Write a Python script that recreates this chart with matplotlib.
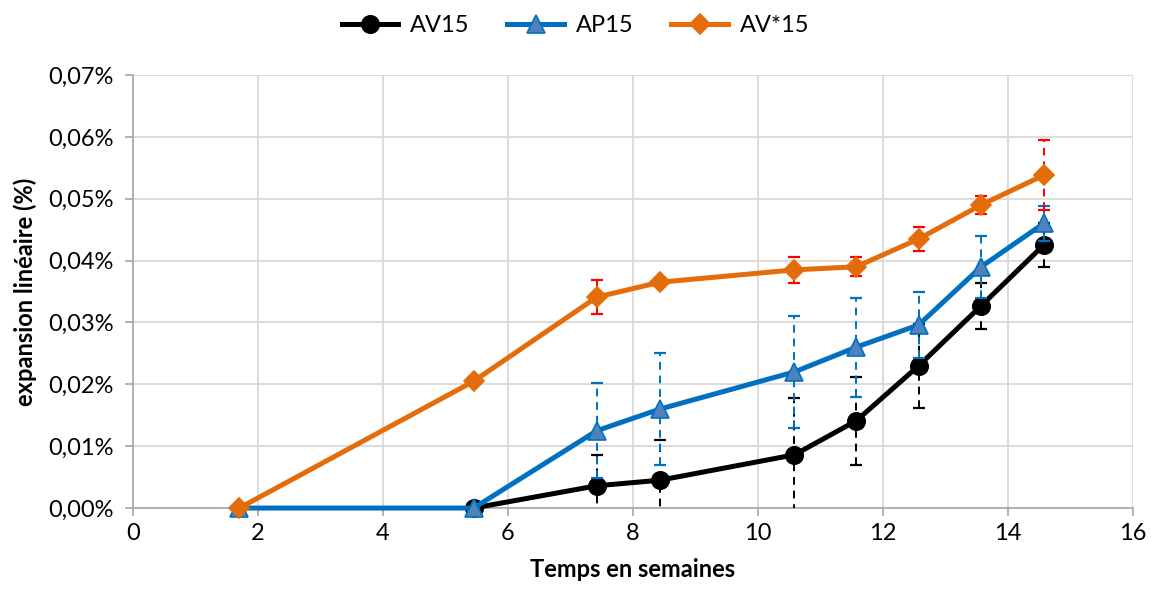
import matplotlib
matplotlib.use("Agg")
import matplotlib.pyplot as plt
from matplotlib.ticker import FuncFormatter, MultipleLocator

plt.rcParams["font.family"] = ["Lato", "DejaVu Sans"]

# temps (semaines)
semaines = [1.7, 5.45, 7.42, 8.43, 10.58, 11.57, 12.57, 13.57, 14.57]

# AV15 (starts at 5.45)
x_av15 = semaines[1:]
av15 = [0.0, 0.0036, 0.0045, 0.0086, 0.0141, 0.0230, 0.0327, 0.0425]
err_av15 = [0.0, 0.0050, 0.0065, 0.0092, 0.0071, 0.0068, 0.0037, 0.0035]

ap15 = [0.0, 0.0, 0.0125, 0.0160, 0.0220, 0.0260, 0.0296, 0.0390, 0.0460]
err_ap15 = [0.0, 0.0, 0.0077, 0.0090, 0.0090, 0.0080, 0.0054, 0.0050, 0.0028]

avs15 = [0.0, 0.0205, 0.0341, 0.0365, 0.0385, 0.0390, 0.0435, 0.0490, 0.0538]
err_avs15 = [0.0, 0.0, 0.0027, 0.0, 0.0021, 0.0015, 0.0020, 0.0015, 0.0057]

fig = plt.figure(figsize=(11.51, 5.97), dpi=100)
ax = fig.add_axes([0.1156, 0.149, 0.8688, 0.7254])

def draw(x, y, err, color, ecolor, marker, mfc, ms, label, z):
    eb = ax.errorbar(x, y, yerr=err, fmt="none", ecolor=ecolor, elinewidth=1.4,
                     capsize=4, capthick=1.6, zorder=z)
    for c in eb[2]:
        c.set_linestyle((0, (4, 3)))
    ax.plot(x, y, color=color, lw=3.6, marker=marker, ms=ms, mfc=mfc,
            mec=color, mew=1.2, label=label, zorder=z + 0.5, clip_on=False)

draw(x_av15, av15, err_av15, "black", "black", "o", "black", 12.5, "AV15", 3)
draw(semaines, ap15, err_ap15, "#0070C0", "#0070C0", "^", "#4F81BD", 13.5, "AP15", 4)
draw(semaines, avs15, err_avs15, "#E46C0A", "#FF0000", "D", "#E46C0A", 10.5, "AV*15", 5)

ax.set_xlim(0, 16)
ax.set_ylim(0, 0.07)
ax.xaxis.set_major_locator(MultipleLocator(2))
ax.yaxis.set_major_locator(MultipleLocator(0.01))
ax.yaxis.set_major_formatter(FuncFormatter(lambda v, p: f"{v:.2f}%".replace(".", ",")))
ax.grid(True, color="#d9d9d9", lw=1.3, zorder=0)
ax.set_axisbelow(True)
for s in ["top", "right"]:
    ax.spines[s].set_visible(False)
for s in ["left", "bottom"]:
    ax.spines[s].set_color("#a6a6a6")
    ax.spines[s].set_linewidth(1.2)
ax.tick_params(axis="both", labelsize=17, color="#a6a6a6", length=6, width=1.2)
ax.tick_params(axis="y", pad=8)
ax.tick_params(axis="x", pad=5)

ax.set_xlabel("Temps en semaines", fontsize=17, fontweight="bold", labelpad=10)
ax.set_ylabel("expansion linéaire (%)", fontsize=17, fontweight="bold", labelpad=8)

fig.legend(loc="upper center", bbox_to_anchor=(0.5, 1.01), ncol=3, frameon=False,
           fontsize=17, handlelength=2.4, columnspacing=1.6, handletextpad=0.5)

fig.savefig("out.png", dpi=100)
